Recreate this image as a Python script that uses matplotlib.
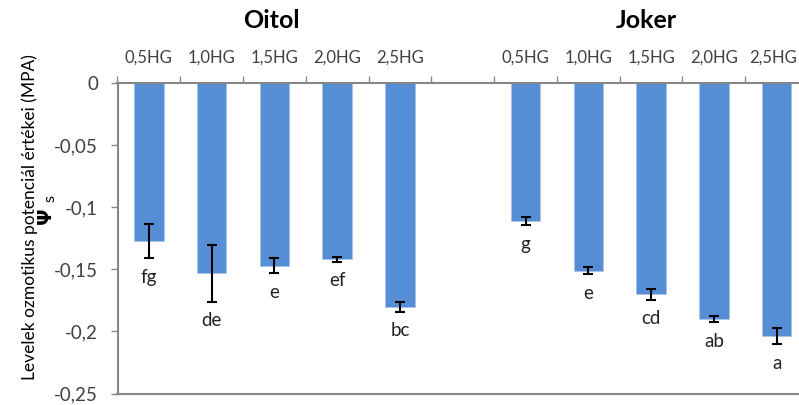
import numpy as np
import matplotlib
matplotlib.use("Agg")
import matplotlib.pyplot as plt
import matplotlib.transforms as mtransforms

plt.rcParams['font.family'] = ['Lato', 'DejaVu Sans']

# ===== data =====
categories = ["0,5HG", "1,0HG", "1,5HG", "2,0HG", "2,5HG"]

oitol_vals = [-0.127, -0.153, -0.147, -0.142, -0.180]
oitol_err = [0.014, 0.023, 0.006, 0.002, 0.004]
oitol_letters = ["fg", "de", "e", "ef", "bc"]

joker_vals = [-0.111, -0.151, -0.170, -0.190, -0.204]
joker_err = [0.0035, 0.003, 0.0045, 0.0027, 0.0065]
joker_letters = ["g", "e", "cd", "ab", "a"]

yticks = [0, -0.05, -0.1, -0.15, -0.2, -0.25]
ytick_labels = ["0", "-0,05", "-0,1", "-0,15", "-0,2", "-0,25"]

bar_color = "#558ed5"
axis_color = "#868686"
text_color = "#404040"

fig = plt.figure(figsize=(7.99, 4.05), dpi=100)
# plot area runs a little past the right edge, as in the original
ax = fig.add_axes([117.5 / 799, 1 - 393.5 / 405, (808 - 117.5) / 799, (393.5 - 83.3) / 405])

n = len(categories)
x_oitol = np.arange(n)
x_joker = np.arange(n) + n + 1  # one empty slot between the groups

for xs, vals, errs, letters in [(x_oitol, oitol_vals, oitol_err, oitol_letters),
                                (x_joker, joker_vals, joker_err, joker_letters)]:
    ax.bar(xs, vals, width=0.47, color=bar_color, edgecolor="#a9c4ea", linewidth=0.6, zorder=2)
    ax.errorbar(xs, vals, yerr=errs, fmt="none", ecolor="black", elinewidth=1.5,
                capsize=3.5, capthick=1.5, zorder=3)
    for x, v, e, lab in zip(xs, vals, errs, letters):
        ax.annotate(lab, (x, v - e), xytext=(0, -19), textcoords="offset pixels",
                    ha="center", va="center", fontsize=13.5, color="#222222")

ax.set_xlim(-0.5, 2 * n + 0.5)
ax.set_ylim(-0.25, 0)

# category axis on top at 0
ax.xaxis.tick_top()
ax.set_xticks(list(x_oitol) + list(x_joker))
ax.set_xticklabels(categories + categories, fontsize=12, color=text_color)
ax.set_xticks(np.arange(-0.5, 2 * n + 1, 1), minor=True)
ax.tick_params(axis="x", which="major", length=0, pad=13)
ax.tick_params(axis="x", which="minor", length=5, width=1, color=axis_color, top=True, bottom=False)

# last label sits a bit left of its slot centre so it stays inside the image
last = ax.get_xticklabels()[-1]
last.set_transform(last.get_transform() + mtransforms.ScaledTranslation(-3 / 100, 0, fig.dpi_scale_trans))

ax.set_yticks(yticks)
ax.set_yticklabels(ytick_labels, fontsize=13.5, color=text_color)
ax.tick_params(axis="y", length=5, width=1, color=axis_color, pad=9)

for side in ["top", "bottom", "left"]:
    ax.spines[side].set_color(axis_color)
    ax.spines[side].set_linewidth(1.5)
ax.spines["right"].set_visible(False)

fig.text(271.5 / 799, 1 - 20 / 405, "Oitol", ha="center", va="center",
         fontsize=18, fontweight="bold", color="black")
fig.text(646 / 799, 1 - 20 / 405, "Joker", ha="center", va="center",
         fontsize=18, fontweight="bold", color="black")

fig.text(30 / 799, 1 - 217 / 405, "Levelek ozmotikus potenciál értékei (MPA)",
         rotation=90, ha="center", va="center", fontsize=12.5, color="black")
fig.text(47 / 799, 1 - 210 / 405, r"$\mathbf{\Psi}\ _{\mathrm{s}}$",
         rotation=90, ha="center", va="center", fontsize=14, color="black")

fig.savefig("out.png", dpi=100)
